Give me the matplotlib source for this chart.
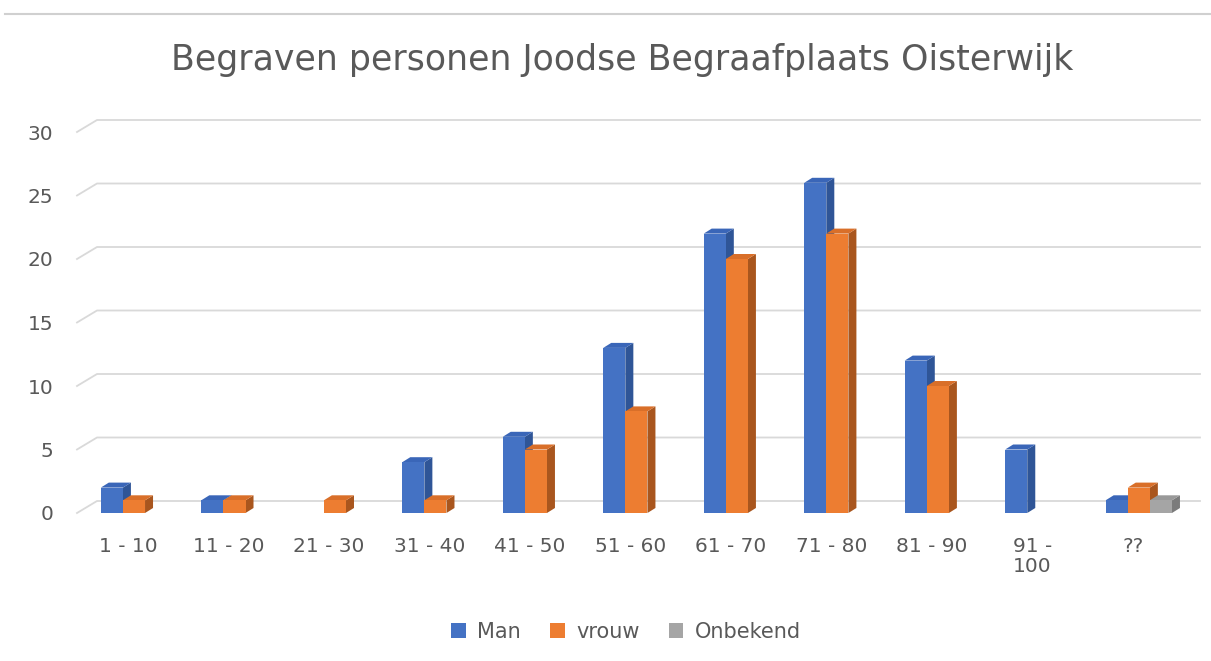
import numpy as np
import matplotlib.pyplot as plt
from matplotlib.patches import Polygon, Patch
from matplotlib.lines import Line2D

# gegevens
categories = ["1 - 10", "11 - 20", "21 - 30", "31 - 40", "41 - 50", "51 - 60",
              "61 - 70", "71 - 80", "81 - 90", "91 -\n100", "??"]
man = [2, 1, 0, 4, 6, 13, 22, 26, 12, 5, 1]
vrouw = [1, 1, 1, 1, 5, 8, 20, 22, 10, 0, 2]
onbekend = [0, 0, 0, 0, 0, 0, 0, 0, 0, 0, 1]

series = [("Man", man, "#4472C4", "#2F5597", "#3A66B8"),
          ("vrouw", vrouw, "#ED7D31", "#A9561E", "#D96F29"),
          ("Onbekend", onbekend, "#A5A5A5", "#7B7B7B", "#999999")]

plt.rcParams['font.family'] = ['DejaVu Sans']
text_col = "#595959"

W, H = 1211, 661
fig = plt.figure(figsize=(W / 100, H / 100), dpi=100)
ax = fig.add_axes([77 / W, 148 / H, (1180 - 77) / W, (529 - 148) / H])
xlim = (-0.507, 10.47)
ylim = (0, 30)
ax.set_xlim(*xlim)
ax.set_ylim(*ylim)

# pixels -> data eenheden
sx = (1180 - 77) / (xlim[1] - xlim[0])
sy = (529 - 148) / (ylim[1] - ylim[0])

# rasterlijnen op de achterwand
bdx, bdy = 20 / sx, 12 / sy
for yv in range(0, 31, 5):
    ax.plot([xlim[0], xlim[0] + bdx, xlim[1] + bdx], [yv, yv + bdy, yv + bdy],
            color="#D9D9D9", lw=1.3, clip_on=False, zorder=0)

# balken met een beetje diepte
w = 0.22
offs = [-0.27, -0.05, 0.17]
ddx, ddy = 8 / sx, 5 / sy
x = np.arange(len(categories))
for k, (name, vals, c, side, top) in enumerate(series):
    for xi, v in zip(x, vals):
        if v == 0:
            continue
        x0 = xi + offs[k]
        ax.add_patch(Polygon([(x0, 0), (x0 + w, 0), (x0 + w, v), (x0, v)],
                             closed=True, fc=c, ec="none", zorder=3))
        ax.add_patch(Polygon([(x0 + w, 0), (x0 + w + ddx, ddy), (x0 + w + ddx, v + ddy), (x0 + w, v)],
                             closed=True, fc=side, ec="none", zorder=2))
        ax.add_patch(Polygon([(x0, v), (x0 + w, v), (x0 + w + ddx, v + ddy), (x0 + ddx, v + ddy)],
                             closed=True, fc=top, ec="none", zorder=2))

ax.set_xticks(x)
ax.set_xticklabels(categories, fontsize=14.5, color=text_col, linespacing=1.1)
ax.set_yticks(range(0, 31, 5))
ax.set_yticklabels([str(v) for v in range(0, 31, 5)], fontsize=14.5, color=text_col)
ax.tick_params(axis="x", length=0, pad=17)
ax.tick_params(axis="y", length=0, pad=17)
for s in ax.spines.values():
    s.set_visible(False)

fig.text(0.514, 1 - 60 / H, "Begraven personen Joodse Begraafplaats Oisterwijk",
         ha="center", va="center", fontsize=25, color=text_col)

handles = [Patch(fc=c, ec="none") for _, _, c, _, _ in series]
fig.legend(handles, [s[0] for s in series], loc="center", bbox_to_anchor=(0.517, 1 - 632 / H),
           ncol=3, frameon=False, fontsize=15, labelcolor=text_col,
           handlelength=0.7, handleheight=0.7, handletextpad=0.55, columnspacing=1.4)

# rand bovenaan
fig.add_artist(Line2D([5 / W, 1], [1 - 14 / H, 1 - 14 / H], color="#D0D0D0", lw=1.5))

fig.savefig("out.png", dpi=100)
